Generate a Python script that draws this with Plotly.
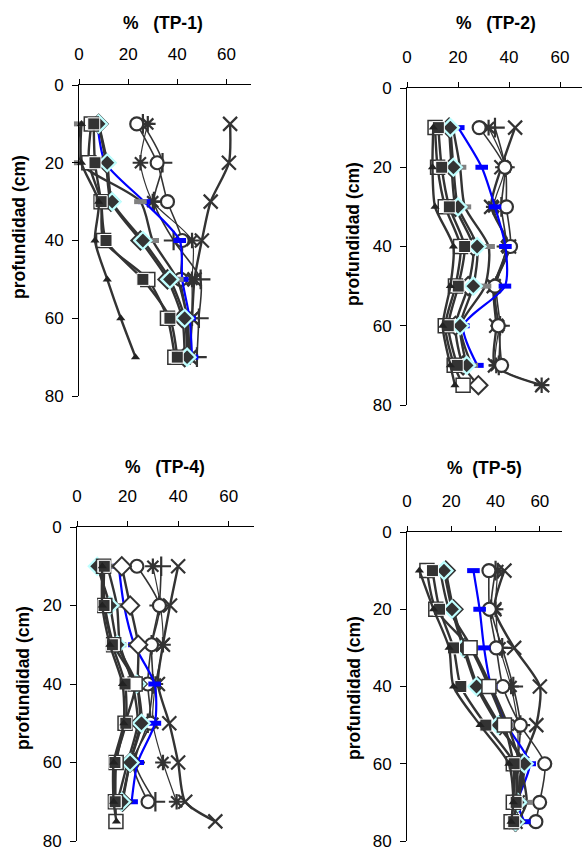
import plotly.graph_objects as go

# ---------------- data ----------------
DEPTH_A = [10, 20, 30, 40, 50, 60, 70]
DEPTH_B = [10, 20, 30, 40, 50, 60, 70, 75]
X_TICKS = [0, 20, 40, 60]
Y_TICKS = [0, 20, 40, 60, 80]
TITLES = ["%\u00a0\u00a0\u00a0(TP-1)", "%\u00a0\u00a0\u00a0(TP-2)", "%\u00a0\u00a0\u00a0(TP-4)", "%\u00a0\u00a0(TP-5)"]
Y_TITLE = "profundidad (cm)"

# TP-1 (depths 10..70)
tp1_tri = [1, 1, 8, 6.5, 11.5, 17, 23]
tp1_sqo = [5, 4, 9, 10, 28, 36, 39]
tp1_sqf = [6, 6.5, 9, 11, 26, 37, 40]
tp1_dio = [8, 11, 13, 25, 36, 42, 43]
tp1_dic = [8, 11.5, 13.5, 26, 37, 43, 44]
tp1_gray = [0.5, 0.5, 25, 30, 40, 44, 45]
tp1_blue = [7.5, 10.7, 26.5, 41, 42, 45, 46]
tp1_cir = [23.5, 31.8, 36, 42, 41.4, 44, 44]
tp1_plus = [26, 34, 30.5, 38.5, 49.5, 48.8, 48]
tp1_x = [61.5, 61, 53.6, 50, 47, 46, 45]
tp1_star = [28, 25, 30, 46, 46, 46, 45]

# TP-2 (depths 10..75)
tp2_tri = [10.3, 10, 11, 18.2, 17, 14, 17, 18.8]
tp2_sqo = [11, 12, 15, 21, 19, 15, 18.5, 22]
tp2_sqf = [12.3, 13.6, 16.6, 22.6, 20.1, 16.2, 19.7, None]
tp2_dio = [16.5, 17.5, 19, 26, 24, 19, 22, 28]
tp2_dic = [17, 18.2, 20, 27.5, 26, 20.8, 23.4, None]
tp2_gray = [18, 20.8, 22.7, 32, 30.6, 21, 25.4, None]
tp2_blue = [20.1, 29.3, 34.5, 38.6, 38.4, 22.1, 27.6, None]
tp2_cir = [28.3, 38.4, 39, 40.6, 34.5, 35.8, 37.1, None]
tp2_plus = [34.5, 38.4, 37, 39, 35, 36.5, 36, None]
tp2_x = [42.4, 37, 33, 40, 34, 35, 34.5, 53]
tp2_star = [32, 38.4, 34, 39, 34, 36, 35, 52.8]

# TP-4 (depths 10..75)
tp4_tri = [10, 10, 13, 18, 18.5, 14.5, 14.5, 15.6]
tp4_sqo = [10.5, 11, 14.5, 23, 19, 15.5, 15.2, 15.4]
tp4_sqf = [10.8, 10.7, 14, 19, 19.3, 15, 15.1, None]
tp4_dio = [17.7, 21, 24.2, 24, 25, 21, 18, None]
tp4_dic = [8, 13, 16, 23.6, 25.5, 21, 17.7, None]
tp4_gray = [12, 15.8, 17, 22, 24, 20, 16, None]
tp4_blue = [16.5, 18.6, 22.7, 30.7, 30.8, 24, 21.6, None]
tp4_cir = [23.7, 32.6, 29.5, 28, 29, 22, 28.1, None]
tp4_plus = [33.3, 32.5, 29.5, 30, 28, 23, 31, None]
tp4_x = [40, 36.8, 34, 32, 36.5, 40, 42.8, 54.7]
tp4_star = [30, 33, 34, 31, 30, 34, 39.4, None]

# TP-5 (depths 10..75)
tp5_tri = [5.6, 12, 19, 21, 33, 46, 48, 47]
tp5_sqo = [9, 13, 28.5, 37, 44, 48, 48, 47]
tp5_sqf = [11.5, 14.7, 21, 24.3, 35.6, 48.4, 49.3, 48.2]
tp5_dio = [17.5, 21, 26, 32, 42, 52, 50, 49]
tp5_dic = [16.7, 20.3, 25.4, 31.4, 41.2, 53, 50, 49]
tp5_gray = [15, 19, 29.3, 38, 45.5, 51, 54, 50]
tp5_blue = [30, 32.8, 34.8, 38, 45, 55.4, 50, 53]
tp5_cir = [37, 37.2, 40.3, 43.3, 51.2, 62.2, 59.9, 58.2]
tp5_plus = [40, 38, 43, 48, 51.2, 50, 50, 49]
tp5_x = [44, 39.5, 48.4, 60, 58.4, 52, 50, 49]
tp5_star = [41, 40, 42, 47, 50, 50, 50, 49]

PANELS = [
    (DEPTH_A, dict(x=tp1_x, star=tp1_star, plus=tp1_plus, cir=tp1_cir, blue=tp1_blue, gray=tp1_gray,
                   dio=tp1_dio, dic=tp1_dic, sqo=tp1_sqo, sqf=tp1_sqf, tri=tp1_tri)),
    (DEPTH_B, dict(x=tp2_x, star=tp2_star, plus=tp2_plus, cir=tp2_cir, blue=tp2_blue, gray=tp2_gray,
                   dio=tp2_dio, dic=tp2_dic, sqo=tp2_sqo, sqf=tp2_sqf, tri=tp2_tri)),
    (DEPTH_B, dict(x=tp4_x, star=tp4_star, plus=tp4_plus, cir=tp4_cir, blue=tp4_blue, gray=tp4_gray,
                   dio=tp4_dio, dic=tp4_dic, sqo=tp4_sqo, sqf=tp4_sqf, tri=tp4_tri)),
    (DEPTH_B, dict(x=tp5_x, star=tp5_star, plus=tp5_plus, cir=tp5_cir, blue=tp5_blue, gray=tp5_gray,
                   dio=tp5_dio, dic=tp5_dic, sqo=tp5_sqo, sqf=tp5_sqf, tri=tp5_tri)),
]

# ---------------- styles ----------------
DARK = "#333333"
LINE = dict(color=DARK, width=2.4, shape="spline", smoothing=0.7)
STYLES = {
    "x":    dict(marker=dict(symbol="x-thin-open", size=14, color=DARK, line=dict(color=DARK, width=2.2)), line=dict(LINE)),
    "star": dict(marker=dict(symbol="asterisk-open", size=13, color=DARK, line=dict(color=DARK, width=2.2)), line=dict(LINE, width=1.2)),
    "plus": dict(marker=dict(symbol="cross-thin-open", size=14, color=DARK, line=dict(color=DARK, width=2.2)), line=dict(LINE, width=1.6)),
    "cir":  dict(marker=dict(symbol="circle", size=13, color="white", line=dict(color=DARK, width=2.2)), line=dict(LINE, width=1.6)),
    "blue": dict(marker=dict(symbol="line-ew-open", size=9, color="#0000FF", line=dict(color="#0000FF", width=5)), line=dict(LINE, color="#0000FF", width=2.2)),
    "gray": dict(marker=dict(symbol="line-ew-open", size=9, color="#808080", line=dict(color="#808080", width=5)), line=dict(LINE)),
    "dio":  dict(marker=dict(symbol="diamond", size=14, color="white", line=dict(color=DARK, width=2)), line=dict(LINE)),
    "dic":  dict(marker=dict(symbol="diamond", size=13, color=DARK, line=dict(color="#BFFFFF", width=2.2)), line=dict(LINE)),
    "sqo":  dict(marker=dict(symbol="square", size=14, color="white", line=dict(color=DARK, width=1.5)), line=dict(LINE)),
    "sqf":  dict(marker=dict(symbol="square", size=12, color=DARK, line=dict(color="white", width=1)), line=dict(LINE)),
    "tri":  dict(marker=dict(symbol="triangle-up", size=8, color="#222222", line=dict(width=0)), line=dict(LINE)),
}

W, H = 582, 852
FONT = "Arial, Liberation Sans, sans-serif"
BOXES = [
    (79, 251, 85, 396, 70),
    (407, 582, 88, 405, (582 - 407) / 2.55),
    (77, 254, 527, 841, 70),
    (407, 562, 532, 841, 70),
]
TITLE_POS = [(163, 23), (496, 23), (165, 467), (484, 468)]
YTITLE_POS = [(19, 227), (353, 234), (23, 678), (354, 688)]

fig = go.Figure()
layout = dict(
    width=W, height=H, margin=dict(l=0, r=0, t=0, b=0, autoexpand=False),
    paper_bgcolor="white", plot_bgcolor="white", showlegend=False,
    font=dict(family=FONT, size=17, color="black"),
)
annotations = []
for i, ((x0, x1, y0, y1, xmax), (depth, series)) in enumerate(zip(BOXES, PANELS)):
    n = "" if i == 0 else str(i + 1)
    xa, ya = "x" + n, "y" + n
    for key, vals in series.items():
        st = STYLES[key]
        fig.add_trace(go.Scatter(
            x=vals, y=depth[:len(vals)], mode="lines+markers", xaxis=xa, yaxis=ya,
            marker=st["marker"], line=st["line"], cliponaxis=False, hoverinfo="skip",
            connectgaps=False,
        ))
    layout["xaxis" + n] = dict(
        domain=[x0 / W, x1 / W], range=[0, xmax], side="top", anchor=ya,
        tickvals=X_TICKS, ticks="outside", ticklen=5, tickcolor="black",
        showline=True, linecolor="black", linewidth=1, showgrid=False, zeroline=False,
        tickfont=dict(size=17), ticklabelstandoff=12, ticklabeloverflow="allow",
    )
    layout["yaxis" + n] = dict(
        domain=[1 - y1 / H, 1 - y0 / H], range=[80, 0], anchor=xa,
        tickvals=Y_TICKS, ticks="outside", ticklen=6, tickcolor="black",
        showline=True, linecolor="black", linewidth=1, showgrid=False, zeroline=False,
        tickfont=dict(size=17), ticklabelstandoff=5, ticklabeloverflow="allow",
    )
    tx, ty = TITLE_POS[i]
    annotations.append(dict(text="<b>%s</b>" % TITLES[i], x=tx / W, y=1 - ty / H, xref="paper", yref="paper",
                            showarrow=False, font=dict(size=17.5, family=FONT), xanchor="center", yanchor="middle"))
    yx, yy = YTITLE_POS[i]
    annotations.append(dict(text="<b>%s</b>" % Y_TITLE, x=yx / W, y=1 - yy / H, xref="paper", yref="paper",
                            showarrow=False, textangle=-90, font=dict(size=17.5, family=FONT),
                            xanchor="center", yanchor="middle"))
layout["annotations"] = annotations
fig.update_layout(**layout)
fig.write_html("out.html", config={"displayModeBar": False},
               post_script="document.body.style.margin='0';document.body.style.overflow='hidden';")
